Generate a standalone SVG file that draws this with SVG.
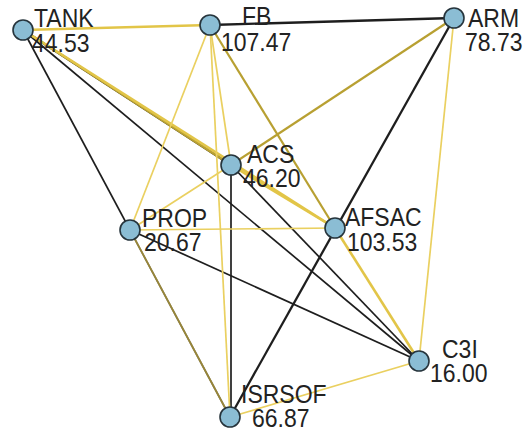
<svg xmlns="http://www.w3.org/2000/svg" width="526" height="433" viewBox="0 0 526 433">
<style>
.k{stroke:#1e1e1e;stroke-width:1.7;fill:none}
.kb{stroke:#1e1e1e;stroke-width:2.3;fill:none}
.y{stroke:#ead060;stroke-width:1.7;fill:none}
.yb{stroke:#e2c548;stroke-width:2.6;fill:none}
.o{stroke:#b8a032;stroke-width:2.2;fill:none}
.py{stroke:#d9bd45;stroke-width:1.8;fill:none;opacity:0.65}
.n{fill:#8bbdd4;stroke:#26343c;stroke-width:1.6}
text{font-family:"Liberation Sans",Arial,sans-serif;font-size:23px;fill:#222}
</style>
<rect width="526" height="433" fill="#ffffff"/>
<g id="connectors">
<line class="k" x1="23" y1="30" x2="230" y2="417"/>
<line class="k" x1="23" y1="30" x2="419" y2="361"/>
<line class="kb" x1="23" y1="30" x2="231" y2="165"/>
<line class="k" x1="231" y1="165" x2="231" y2="417"/>
<line class="k" x1="231" y1="165" x2="419" y2="361"/>
<line class="k" x1="130" y1="230" x2="419" y2="361"/>
<line class="kb" x1="454" y1="18" x2="230" y2="417"/>
<line class="kb" x1="210" y1="25" x2="454" y2="18"/>
<line class="yb" x1="23" y1="30" x2="210" y2="25"/>
<line class="o" x1="23" y1="30" x2="231" y2="165"/>
<line class="yb" x1="23" y1="30" x2="335" y2="228"/>
<line class="yb" x1="231" y1="165" x2="335" y2="228"/>
<line class="y" x1="210" y1="25" x2="130" y2="230"/>
<line class="y" x1="210" y1="25" x2="231" y2="165"/>
<line class="y" x1="210" y1="25" x2="230" y2="417"/>
<line class="o" x1="210" y1="25" x2="335" y2="228"/>
<line class="yb" x1="335" y1="228" x2="419" y2="361"/>
<line class="o" x1="454" y1="18" x2="231" y2="165"/>
<line class="y" x1="231" y1="165" x2="130" y2="230"/>
<line class="y" x1="454" y1="18" x2="419" y2="361"/>
<line class="y" x1="130" y1="230" x2="335" y2="228"/>
<line class="py" x1="130" y1="230" x2="230" y2="417"/>
<line class="y" x1="230" y1="417" x2="419" y2="361"/>
</g>
<g id="TANK"><circle class="n" cx="23" cy="30" r="10"/><text transform="translate(34,27) scale(1,1.1)">TANK</text><text transform="translate(32,52) scale(1,1.1)">44.53</text></g>
<g id="FB"><circle class="n" cx="210" cy="25" r="10"/><text transform="translate(242,25) scale(1,1.1)">FB</text><text transform="translate(221,51) scale(1,1.1)">107.47</text></g>
<g id="ARM"><circle class="n" cx="454" cy="18" r="10"/><text transform="translate(468,27) scale(1,1.1)">ARM</text><text transform="translate(465,51) scale(1,1.1)">78.73</text></g>
<g id="ACS"><circle class="n" cx="231" cy="165" r="10"/><text transform="translate(247,163) scale(1,1.1)">ACS</text><text transform="translate(243,187) scale(1,1.1)">46.20</text></g>
<g id="PROP"><circle class="n" cx="130" cy="230" r="10"/><text transform="translate(142,227) scale(1,1.1)">PROP</text><text transform="translate(144,251) scale(1,1.1)">20.67</text></g>
<g id="AFSAC"><circle class="n" cx="335" cy="228" r="10"/><text transform="translate(345,226) scale(1,1.1)">AFSAC</text><text transform="translate(347,251) scale(1,1.1)">103.53</text></g>
<g id="C3I"><circle class="n" cx="419" cy="361" r="10"/><text transform="translate(442,358) scale(1,1.1)">C3I</text><text transform="translate(430,382) scale(1,1.1)">16.00</text></g>
<g id="ISRSOF"><circle class="n" cx="230" cy="417" r="10"/><text transform="translate(241,403) scale(1,1.1)">ISRSOF</text><text transform="translate(252,427) scale(1,1.1)">66.87</text></g>
</svg>
